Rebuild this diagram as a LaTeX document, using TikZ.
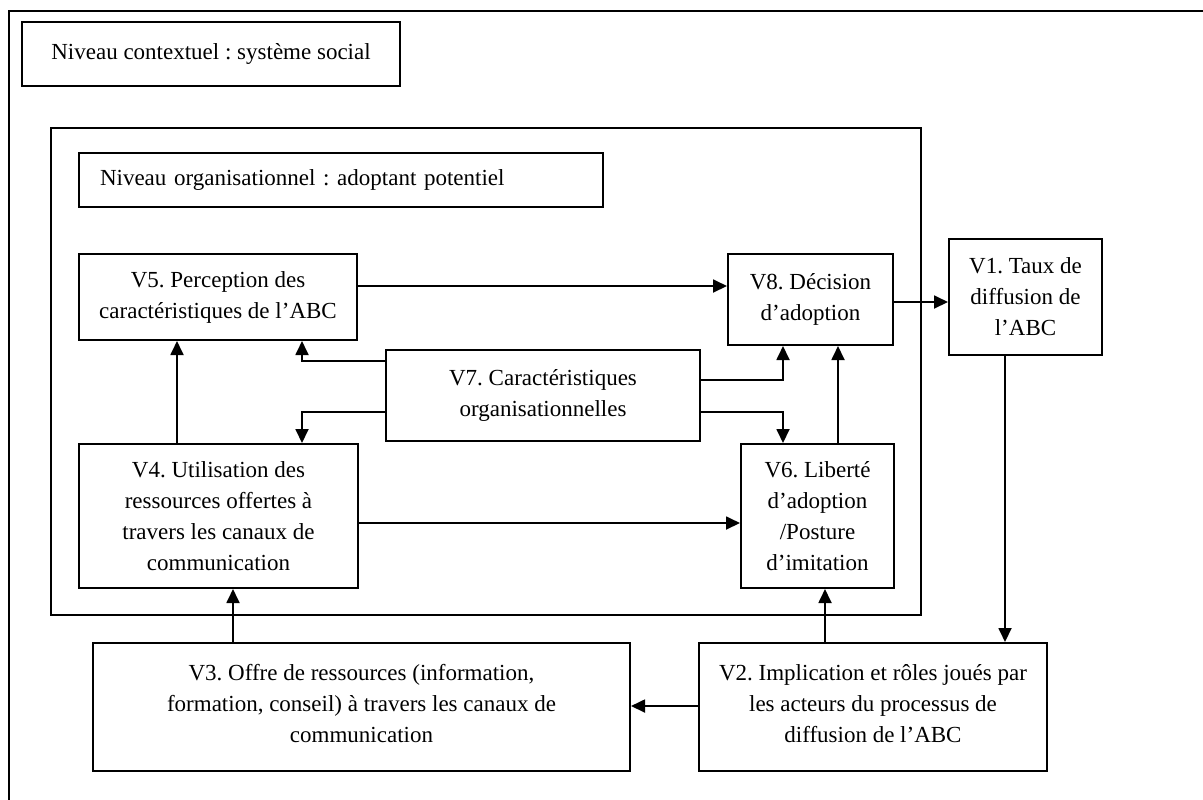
\documentclass[tikz,border=0pt]{standalone}
\usepackage{fontspec}
\setmainfont{Liberation Serif}
\usetikzlibrary{arrows.meta,calc}
\frenchspacing
\begin{document}
\begin{tikzpicture}[x=0.5pt,y=-0.5pt,
  every node/.style={font=\fontsize{11.5pt}{15.5pt}\selectfont},
  box/.style={draw,line width=1pt,align=center,inner sep=0pt},
  frame/.style={draw,line width=0.8pt},
  arr/.style={line width=0.9pt,-{Triangle[length=7pt,width=6.5pt]}}]
\useasboundingbox (0,0) rectangle (1203,799);
\clip (0,0) rectangle (1203,799);
\draw[line width=1pt] (9,11) rectangle (1230,830);
\draw[frame] (51,128) rectangle (921,615);
\node[box,minimum width=189pt,minimum height=32pt] (ctx) at (211,54) {Niveau contextuel : système social};
\node[box,align=left,text width=241pt,inner xsep=10.5pt,minimum height=27pt] (org) at (341,180) {Niveau organisationnel : adoptant potentiel};
\node[box,minimum width=139pt,minimum height=43pt] (v5) at (218,297) {V5. Perception des\\caractéristiques de l’ABC};
\node[box,minimum width=82.5pt,minimum height=45.5pt] (v8) at (810.5,299.5) {V8. Décision\\d’adoption};
\node[box,minimum width=76.5pt,minimum height=58pt] (v1) at (1025.5,297) {V1. Taux de\\diffusion de\\l’ABC};
\node[box,minimum width=157pt,minimum height=45.5pt] (v7) at (543,395.5) {V7. Caractéristiques\\organisationnelles};
\node[box,minimum width=139.5pt,minimum height=72pt] (v4) at (218.5,516) {V4. Utilisation des\\ressources offertes à\\travers les canaux de\\communication};
\node[box,minimum width=76.5pt,minimum height=72pt] (v6) at (817.5,516) {V6. Liberté\\d’adoption\\/Posture\\d’imitation};
\node[box,minimum width=268.5pt,minimum height=64pt,text depth=4pt] (v3) at (361.5,707) {V3. Offre de ressources (information,\\formation, conseil) à travers les canaux de\\communication};
\node[box,minimum width=174pt,minimum height=64pt,text depth=4pt] (v2) at (873,707) {V2. Implication et rôles joués par\\les acteurs du processus de\\diffusion de l’ABC};
% connectors
\draw[arr] (v5.east |- 0,286) -- (v8.west |- 0,286);
\draw[arr] (v8.east |- 0,302) -- (v1.west |- 0,302);
\draw[arr] (v1.south -| 1005,0) -- (v2.north -| 1005,0);
\draw[arr] (v2.west |- 0,706) -- (v3.east |- 0,706);
\draw[arr] (v2.north -| 825,0) -- (v6.south -| 825,0);
\draw[arr] (v3.north -| 233,0) -- (v4.south -| 233,0);
\draw[arr] (v4.east |- 0,523) -- (v6.west |- 0,523);
\draw[arr] (v4.north -| 177,0) -- (v5.south -| 177,0);
\draw[arr] (v6.north -| 838,0) -- (v8.south -| 838,0);
\draw[arr] (v7.west |- 0,361) -| (v5.south -| 302,0);
\draw[arr] (v7.west |- 0,412) -| (v4.north -| 302,0);
\draw[arr] (v7.east |- 0,380) -| (v8.south -| 783,0);
\draw[arr] (v7.east |- 0,412) -| (v6.north -| 783,0);
\end{tikzpicture}
\end{document}
